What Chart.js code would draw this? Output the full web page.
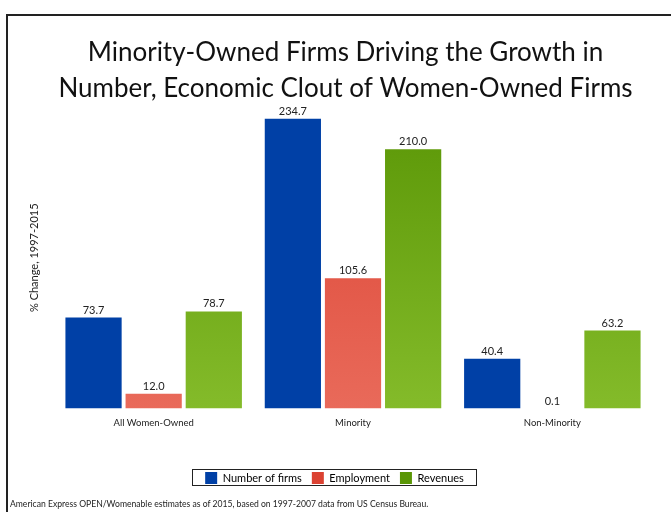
<!DOCTYPE html>
<html lang="en">
<head>
<meta charset="UTF-8">
<title>Minority-Owned Firms</title>
<script src="https://cdn.jsdelivr.net/npm/chart.js"></script>
<style>
  body { margin: 0; background: #fff; }
  .wrap { position: relative; width: 671px; height: 512px; overflow: hidden; }
  .frame { position: absolute; left: 6px; top: 14px; right: -10px; bottom: -10px;
           border-top: 2px solid #222; border-left: 2px solid #222; }
  .source { position: absolute; left: 10px; top: 499px; font: 8.6px Lato, sans-serif; color: #222; white-space: nowrap; }
  canvas { position: absolute; left: 0; top: 0; }
</style>
</head>
<body>
<div class="wrap">
  <div class="frame"></div>
  <canvas id="chart" width="671" height="512"></canvas>
  <div class="source">American Express OPEN/Womenable estimates as of 2015, based on 1997-2007 data from US Census Bureau.</div>
</div>
<script>
// categorias y series
const categories = ['All Women-Owned', 'Minority', 'Non-Minority'];
const seriesNames = ['Number of firms', 'Employment', 'Revenues'];
const firms = [73.7, 234.7, 40.4];
const employment = [12.0, 105.6, 0.1];
const revenues = [78.7, 210.0, 63.2];

// colores: arriba / abajo del degradado
const topColors = ['#0040a6', '#db4232', '#5a9606'];
const bottomColors = ['#0040a6', '#e96a5a', '#84bb2a'];

function grad(i) {
  return function (ctx) {
    const ch = ctx.chart;
    const area = ch.chartArea;
    if (!area) return topColors[i];
    const meta = ch.getDatasetMeta(ctx.datasetIndex);
    const bar = meta.data[ctx.dataIndex];
    const y0 = bar && isFinite(bar.y) ? bar.y : area.top;
    const g = ch.ctx.createLinearGradient(0, y0, 0, area.bottom);
    g.addColorStop(0, topColors[i]);
    g.addColorStop(1, bottomColors[i]);
    return g;
  };
}

// etiquetas de valor sobre las barras
const valueLabels = {
  id: 'valueLabels',
  afterDatasetsDraw(chart) {
    const c = chart.ctx;
    c.save();
    c.font = '11px Lato, sans-serif';
    c.fillStyle = '#222';
    c.textAlign = 'center';
    c.textBaseline = 'bottom';
    chart.data.datasets.forEach((ds, i) => {
      chart.getDatasetMeta(i).data.forEach((bar, j) => {
        c.fillText(ds.data[j].toFixed(1), bar.x, bar.y - 2);
      });
    });
    c.restore();
  }
};

// leyenda un poco a la izquierda y con recuadro
const legendBox = {
  id: 'legendBox',
  afterLayout(chart) {
    chart.legend.left -= 11;
    chart.legend.right -= 11;
  },
  afterDraw(chart) {
    const c = chart.ctx;
    c.save();
    c.strokeStyle = '#222';
    c.lineWidth = 1;
    c.strokeRect(192.5, 469.5, 284, 16);
    c.restore();
  }
};

new Chart(document.getElementById('chart'), {
  type: 'bar',
  data: {
    labels: categories,
    datasets: [
      { label: seriesNames[0], data: firms, backgroundColor: grad(0) },
      { label: seriesNames[1], data: employment, backgroundColor: grad(1) },
      { label: seriesNames[2], data: revenues, backgroundColor: grad(2) }
    ]
  },
  options: {
    responsive: false,
    animation: false,
    categoryPercentage: 0.905,
    barPercentage: 0.935,
    layout: { padding: { left: 20, right: 0, top: 0, bottom: 18 } },
    plugins: {
      title: {
        display: true,
        text: ['Minority-Owned Firms Driving the Growth in', 'Number, Economic Clout of Women-Owned Firms'],
        font: { family: 'Lato', size: 26, weight: 'normal', lineHeight: 1.4 },
        color: '#111',
        padding: { top: 34, bottom: 0 }
      },
      legend: {
        position: 'bottom',
        labels: {
          font: { family: 'Lato', size: 11 },
          color: '#222',
          boxWidth: 12,
          boxHeight: 12,
          padding: 10,
          generateLabels(chart) {
            return seriesNames.map((n, i) => ({
              text: n, fillStyle: topColors[i], strokeStyle: topColors[i],
              lineWidth: 0, datasetIndex: i, hidden: false
            }));
          }
        }
      },
      tooltip: { enabled: false }
    },
    scales: {
      x: {
        grid: { display: false },
        border: { display: false },
        ticks: { font: { family: 'Lato', size: 9.5 }, color: '#222', padding: 1 },
        afterFit(s) { s.height += 32; }
      },
      y: {
        min: 0,
        max: 244.4,
        grid: { display: false },
        border: { display: false },
        ticks: { display: false },
        title: { display: true, text: '% Change, 1997-2015', font: { family: 'Lato', size: 11 }, color: '#222', padding: { top: 8, bottom: 0 } },
        afterFit(s) { s.width = 34; }
      },
      yr: {
        position: 'right',
        display: true,
        grid: { display: false },
        border: { display: false },
        ticks: { display: false },
        afterFit(s) { s.width = 19; }
      }
    }
  },
  plugins: [valueLabels, legendBox]
});
</script>
</body>
</html>
